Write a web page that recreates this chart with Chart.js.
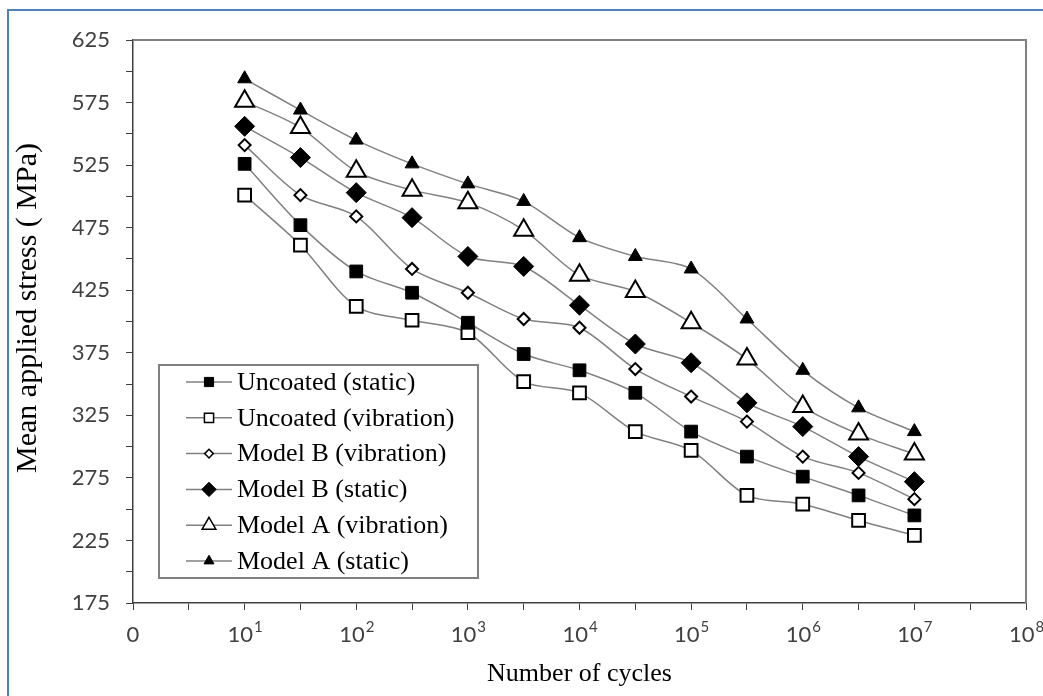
<!DOCTYPE html>
<html>
<head>
<meta charset="utf-8">
<script src="https://cdn.jsdelivr.net/npm/chart.js@4.4.1/dist/chart.umd.min.js"></script>
<style>
  html, body { margin: 0; padding: 0; background: #fff; }
  #wrap { width: 1043px; height: 696px; }
</style>
</head>
<body>
<div id="wrap"><canvas id="sn" width="1043" height="696"></canvas></div>
<script>
// log10 of the number of cycles (10^1 ... 10^7, half decades)
const cycleExp = [1, 1.5, 2, 2.5, 3, 3.5, 4, 4.5, 5, 5.5, 6, 6.5, 7];

// mean applied stress, MPa
const uncoatedStatic    = [526, 477, 440, 423, 399, 374, 361, 343, 312, 292, 276, 261, 245];
const uncoatedVibration = [501, 461, 412, 401, 391, 352, 343, 312, 297, 261, 254, 241, 229];
const modelBVibration   = [541, 501, 484, 442, 423, 402, 395, 362, 340, 320, 292, 279, 258];
const modelBStatic      = [556, 531, 503, 483, 452, 444, 413, 382, 367, 335, 316, 292, 272];
const modelAVibration   = [576, 555, 520, 505, 495, 473, 437, 424, 399, 370, 332, 310, 294];
const modelAStatic      = [594, 569, 545, 526, 510, 496, 467, 452, 442, 402, 361, 331, 312];

const xTickExp = [0, 1, 2, 3, 4, 5, 6, 7, 8];
const yTitle = 'Mean applied stress ( MPa)';

const SANS = 'Lato, "Open Sans", sans-serif';
const SERIF = '"Liberation Serif", "Times New Roman", serif';

function series(label, values, style, radius, filled) {
  return {
    label,
    data: cycleExp.map((c, i) => ({ x: c, y: values[i] })),
    showLine: true,
    tension: 0.3,
    borderColor: '#808080',
    borderWidth: 1.5,
    pointStyle: style,
    pointRadius: radius,
    pointBackgroundColor: filled ? '#000' : '#fff',
    pointBorderColor: '#000',
    pointBorderWidth: filled ? 1 : 2,
  };
}

const datasets = [
  series('Uncoated (static)', uncoatedStatic, 'rect', 9, true),
  series('Uncoated (vibration)', uncoatedVibration, 'rect', 9, false),
  series('Model B (vibration)', modelBVibration, 'rectRot', 6, false),
  series('Model B (static)', modelBStatic, 'rectRot', 10, true),
  series('Model A (vibration)', modelAVibration, 'triangle', 11, false),
  series('Model A (static)', modelAStatic, 'triangle', 8, true),
];

// frame, y title, x tick labels with exponents, and the boxed legend
const extras = {
  id: 'extras',
  afterDraw(chart) {
    const ctx = chart.ctx;
    const area = chart.chartArea;
    const xs = chart.scales.x;
    ctx.save();

    // blue outer frame (top + left)
    ctx.strokeStyle = '#4f81bd';
    ctx.lineWidth = 2;
    ctx.beginPath();
    ctx.moveTo(8, 696);
    ctx.lineTo(8, 10);
    ctx.lineTo(1043, 10);
    ctx.stroke();

    // plot box top + right
    ctx.strokeStyle = '#808080';
    ctx.lineWidth = 2;
    ctx.beginPath();
    ctx.moveTo(area.left, area.top);
    ctx.lineTo(area.right, area.top);
    ctx.lineTo(area.right, area.bottom);
    ctx.stroke();

    // y axis title
    ctx.save();
    ctx.translate(28, 308);
    ctx.rotate(-Math.PI / 2);
    ctx.fillStyle = '#000';
    ctx.font = '30px ' + SERIF;
    ctx.textAlign = 'center';
    ctx.textBaseline = 'middle';
    ctx.fillText(yTitle, 0, 0);
    ctx.restore();

    // x tick labels: 0, 10^1 ... 10^8
    ctx.fillStyle = '#404040';
    ctx.textBaseline = 'alphabetic';
    xTickExp.forEach(e => {
      const px = xs.getPixelForValue(e);
      if (e === 0) {
        ctx.font = '22px ' + SANS;
        ctx.textAlign = 'center';
        ctx.fillText('0', px, 642);
        return;
      }
      ctx.font = '22px ' + SANS;
      const wBase = ctx.measureText('10').width;
      ctx.font = '15px ' + SANS;
      const wExp = ctx.measureText(String(e)).width;
      const x0 = px - (wBase + wExp) / 2;
      ctx.textAlign = 'left';
      ctx.font = '22px ' + SANS;
      ctx.fillText('10', x0, 642);
      ctx.font = '15px ' + SANS;
      ctx.fillText(String(e), x0 + wBase + 1, 632);
    });

    // legend
    const box = { l: 159, t: 365, r: 478, b: 578 };
    ctx.fillStyle = '#fff';
    ctx.fillRect(box.l, box.t, box.r - box.l, box.b - box.t);
    ctx.strokeStyle = '#808080';
    ctx.lineWidth = 2;
    ctx.strokeRect(box.l, box.t, box.r - box.l, box.b - box.t);

    chart.data.datasets.forEach((ds, i) => {
      const y = 382 + i * 35.8;
      ctx.strokeStyle = ds.borderColor;
      ctx.lineWidth = 1.5;
      ctx.beginPath();
      ctx.moveTo(186, y);
      ctx.lineTo(232, y);
      ctx.stroke();

      ctx.fillStyle = ds.pointBackgroundColor;
      ctx.strokeStyle = ds.pointBorderColor;
      ctx.lineWidth = ds.pointBorderWidth === 2 ? 1.5 : 1;
      Chart.helpers.drawPoint(ctx, {
        pointStyle: ds.pointStyle,
        radius: ds.pointRadius * 0.72,
        rotation: 0,
        borderWidth: ctx.lineWidth,
      }, 209, y);

      ctx.fillStyle = '#000';
      ctx.font = '26px ' + SERIF;
      ctx.textAlign = 'left';
      ctx.textBaseline = 'middle';
      ctx.fillText(ds.label, 237, y + 1);
    });

    ctx.restore();
  }
};

new Chart(document.getElementById('sn'), {
  type: 'scatter',
  data: { datasets },
  plugins: [extras],
  options: {
    responsive: false,
    animation: false,
    devicePixelRatio: 1,
    layout: { padding: { top: 40, right: 17, left: 0, bottom: 0 } },
    plugins: {
      legend: { display: false },
      tooltip: { enabled: false },
    },
    scales: {
      x: {
        type: 'linear',
        min: 0,
        max: 8,
        afterFit: s => { s.height = 93; },
        ticks: { stepSize: 0.5, autoSkip: false, callback: () => '' },
        grid: { drawOnChartArea: false, drawTicks: true, tickLength: 7, color: '#404040' },
        border: { color: '#404040', width: 1.5 },
        title: {
          display: true,
          text: 'Number of cycles',
          color: '#000',
          font: { family: SERIF, size: 26 },
          padding: { bottom: 6 },
        },
      },
      y: {
        min: 175,
        max: 625,
        afterFit: s => { s.width = 133; },
        ticks: {
          stepSize: 25,
          autoSkip: false,
          padding: 16,
          color: '#404040',
          font: { family: SANS, size: 22 },
          callback: v => ((v - 175) % 50 === 0 ? v : ''),
        },
        grid: { drawOnChartArea: false, drawTicks: true, tickLength: 7, color: '#404040' },
        border: { color: '#404040', width: 1.5 },
      },
    },
  },
});
</script>
</body>
</html>
